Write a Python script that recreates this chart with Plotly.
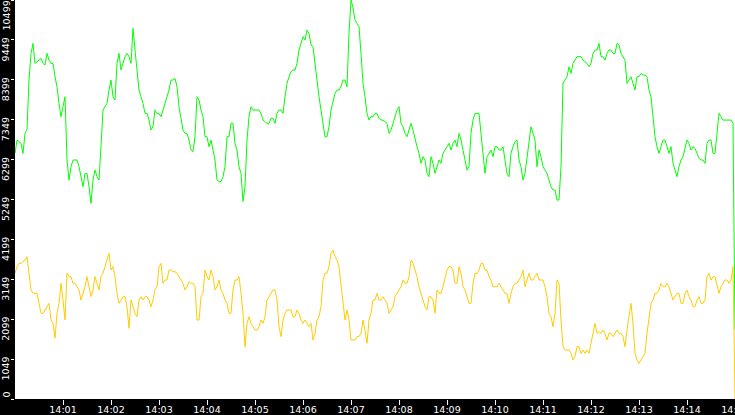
import pandas as pd
import plotly.graph_objects as go

# sampled every 2.5 seconds from 14:00:00 to 14:15:00
START = "2024-01-01 14:00:00"
STEP = "2500ms"

green_values = [
    # 14:00:00 - 14:03:45
    6464, 6814, 6770, 6727, 6464, 6990, 7100, 8393, 9094, 9357,
    8831, 8875, 8919, 8963, 8831, 8787, 9094, 8919, 8831, 8831,
    8480, 8217, 7779, 7428, 7691, 7954, 6288, 5762, 6113, 6288,
    6288, 6288, 6113, 5850, 5586, 5937, 5937, 5586, 5148, 5762,
    6025, 5850, 5762, 6639, 7604, 7691, 7779, 8130, 8393, 7954,
    7867, 8831, 9094, 8656, 8831, 9007, 9094, 9007, 8831, 9752,
    9182, 8656, 8130, 7954, 7779, 7516, 7516, 7340, 7077, 7165,
    7604, 7516, 7516, 7428, 7604, 7779, 7954, 8130, 8393, 8393,
    8437, 8217, 7691, 7340, 7077, 6990, 6990, 6814, 6551, 6507,
    6902,
    # 14:03:47.5 - 14:07:30
    7954, 7867, 7604, 7428, 6902, 6902, 6639, 6814, 6551, 6288,
    5762, 5718, 5718, 5850, 6113, 6902, 6902, 7253, 7253, 6727,
    6551, 6113, 5937, 5200, 5586, 6814, 7428, 7691, 7604, 7604,
    7604, 7604, 7516, 7340, 7297, 7253, 7253, 7384, 7384, 7253,
    7516, 7604, 7604, 7516, 7954, 8305, 8480, 8612, 8656, 8656,
    8831, 9182, 9357, 9533, 9445, 9708, 9621, 9314, 9270, 8743,
    8393, 7954, 7604, 7165, 6902, 6902, 7165, 7604, 7867, 8042,
    8130, 8130, 8217, 8393, 8393, 8217, 9621, 10499, 10300, 9971,
    9884, 9796, 9094, 8305, 7954, 7516, 7340, 7428, 7428, 7516,
    # 14:07:32.5 - 14:11:15
    7516, 7384, 7340, 7340, 7297, 7253, 6990, 7077, 7253, 7428,
    7604, 7691, 7253, 7165, 6990, 6902, 7077, 7253, 7077, 6814,
    6639, 6464, 6201, 6376, 6288, 5937, 5850, 6376, 6201, 5937,
    6113, 6288, 6201, 6464, 6551, 6639, 6727, 6551, 6727, 6814,
    6639, 6990, 6814, 6551, 6288, 6025, 6113, 6990, 7340, 7516,
    7516, 7516, 6990, 6376, 5937, 6376, 6464, 6551, 6376, 6639,
    6639, 6551, 6551, 6639, 6288, 5937, 5850, 6464, 6639, 6770,
    6814, 6288, 6113, 5762, 5937, 6376, 6814, 7165, 6990, 6814,
    6113, 6551, 6376, 6113, 6025, 5937, 5762, 5586, 5499, 5499,
    # 14:11:17.5 - 14:15:00
    5236, 5236, 6113, 8305, 8393, 8480, 8743, 8568, 8831, 8919,
    9007, 9007, 9007, 8919, 8875, 8831, 8743, 8831, 9094, 9182,
    9182, 9357, 9007, 9007, 8919, 9094, 9182, 9182, 9094, 9094,
    9357, 9314, 9094, 9007, 8919, 8305, 8393, 8480, 8305, 8130,
    8480, 8480, 8568, 8524, 8524, 8480, 8130, 7954, 7428, 6902,
    6639, 6464, 6639, 6814, 6814, 6639, 6464, 6639, 6201, 6025,
    5850, 6113, 6288, 6376, 6639, 6814, 6727, 6551, 6639, 6595,
    6464, 6332, 6288, 6288, 6201, 6727, 6814, 6814, 6464, 6464,
    6990, 7516, 7428, 7340, 7340, 7340, 7340, 7340, 7253, 1815,
]

gold_values = [
    # 14:00:00 - 14:03:45
    3307, 3482, 3569, 3569, 3613, 3657, 3745, 3219, 2868, 2780,
    2780, 2780, 2517, 2254, 2254, 2342, 2429, 2517, 2078, 1991,
    1600, 2254, 2517, 3043, 2605, 2078, 3307, 3219, 3219, 3043,
    3043, 2955, 2868, 2605, 2780, 2955, 3219, 2955, 2692, 2868,
    3219, 3043, 2868, 3219, 3307, 3482, 3657, 3832, 3394, 3482,
    3219, 2780, 2517, 2605, 2692, 2692, 2429, 1859, 2605, 2429,
    2254, 2166, 2605, 2692, 2605, 2692, 2692, 2605, 2429, 2605,
    2868, 2955, 3482, 3569, 3043, 3131, 3131, 3394, 3394, 3350,
    3350, 3307, 3219, 3131, 3043, 2868, 2955, 3087, 3043, 3043,
    2955,
    # 14:03:47.5 - 14:07:30
    2078, 2078, 2692, 2780, 3394, 3219, 3131, 3394, 3219, 2868,
    2955, 3131, 2868, 2780, 2605, 2517, 2254, 2254, 2868, 3131,
    3131, 3219, 2780, 2254, 1377, 1991, 2166, 1991, 1903, 1815,
    1815, 1903, 2078, 1991, 2166, 2605, 2692, 2780, 2868, 2868,
    2605, 1903, 1640, 2078, 2254, 2342, 2342, 2342, 2166, 2166,
    2342, 2254, 2078, 1991, 2078, 1991, 1903, 1991, 1552, 1728,
    2078, 2166, 2429, 3131, 3307, 3307, 3482, 3832, 3920, 3745,
    3657, 3482, 2955, 2429, 2078, 2342, 2078, 1552, 1552, 1552,
    1640, 1640, 1728, 2078, 1815, 1465, 2078, 2254, 2605, 2605,
    # 14:07:32.5 - 14:11:15
    2780, 2605, 2605, 2692, 2605, 2517, 2254, 2342, 2429, 2692,
    2780, 2868, 2955, 3131, 3043, 3043, 3219, 3657, 3569, 3394,
    3219, 2955, 2780, 2605, 2429, 2342, 2692, 2692, 2605, 2254,
    2868, 2780, 2780, 2955, 3219, 3394, 3482, 3482, 3394, 3043,
    3043, 3482, 3307, 2955, 2868, 2692, 2517, 2517, 3043, 3307,
    3307, 3394, 3569, 3569, 3394, 3394, 3219, 3131, 2955, 2955,
    2955, 3043, 2955, 2868, 2780, 2780, 2517, 2780, 2955, 3043,
    3043, 3131, 3219, 3394, 2955, 3131, 3307, 3131, 3131, 3219,
    3307, 3131, 3131, 3131, 2955, 2692, 2254, 2166, 1903, 2254,
    # 14:11:17.5 - 14:15:00
    3131, 3043, 2078, 1377, 1289, 1289, 1289, 1201, 1026, 1114,
    1377, 1377, 1201, 1289, 1201, 1289, 1201, 1465, 1728, 1991,
    1728, 1772, 1728, 1815, 1728, 1552, 1728, 1728, 1640, 1728,
    1815, 1728, 1728, 1640, 1377, 1815, 2166, 2517, 1991, 1201,
    1026, 938, 1026, 1114, 1201, 1728, 2078, 2517, 2605, 2780,
    2780, 2868, 3043, 2955, 2955, 3043, 2955, 2780, 2605, 2692,
    2780, 2780, 2517, 2517, 2780, 2868, 2692, 2605, 2429, 2429,
    2605, 2692, 2517, 2517, 2605, 3219, 3307, 3131, 3219, 3219,
    2955, 2780, 2955, 3043, 3131, 3131, 3043, 3131, 3482, 0,
]

y_max = 10499
y_tick_values = [0, 1049.9, 2099.8, 3149.7, 4199.6, 5249.5, 6299.4,
                 7349.3, 8399.2, 9449.1, 10499]
y_tick_text = ["0", "1049", "2099", "3149", "4199", "5249", "6299",
               "7349", "8399", "9449", "10499"]
x_tick_values = ["2024-01-01 14:%02d:00" % m for m in range(1, 16)]
x_tick_text = ["14:%02d" % m for m in range(1, 16)]

times = pd.date_range(START, periods=len(green_values), freq=STEP)

fig = go.Figure()
fig.add_trace(go.Scatter(x=times, y=green_values, mode="lines",
                         line=dict(color="#00ff00", width=1),
                         showlegend=False, hoverinfo="skip"))
fig.add_trace(go.Scatter(x=times, y=gold_values, mode="lines",
                         line=dict(color="#ffcc00", width=1),
                         showlegend=False, hoverinfo="skip"))

tick_font = dict(family="DejaVu Sans", size=9.5, color="white")

# rotated y tick labels drawn as annotations so that they can hang below
# their tick (and stay inside the plot height at both ends)
for val, txt in zip(y_tick_values, y_tick_text):
    if val == 0:
        anchor, shift = "bottom", 0
    elif val >= y_max:
        anchor, shift = "top", 0
    else:
        anchor, shift = "top", 3
    fig.add_annotation(
        x=0, xref="paper", xanchor="right", xshift=-3,
        y=val, yref="y", yanchor=anchor, yshift=shift,
        text=txt, textangle=-90, showarrow=False,
        font=tick_font, borderpad=0,
    )

fig.update_layout(
    width=735, height=415,
    margin=dict(l=15, r=0, t=0, b=16, pad=0),
    paper_bgcolor="black", plot_bgcolor="white",
    xaxis=dict(
        range=["2024-01-01 14:00:00", "2024-01-01 14:15:00"],
        tickvals=x_tick_values, ticktext=x_tick_text,
        ticks="outside", ticklen=5, tickcolor="white", tickwidth=1,
        tickfont=tick_font, ticklabelstandoff=-3,
        showgrid=False, zeroline=False,
        showline=False, automargin=False, ticklabeloverflow="allow",
    ),
    yaxis=dict(
        range=[0, y_max],
        tickvals=y_tick_values, showticklabels=False,
        ticks="outside", ticklen=3, tickcolor="white", tickwidth=1,
        showgrid=False, zeroline=False,
        showline=False, automargin=False,
    ),
)

fig.write_html(
    "out.html",
    config={"displayModeBar": False},
    post_script="document.body.style.margin='0';document.body.style.background='black';",
)
